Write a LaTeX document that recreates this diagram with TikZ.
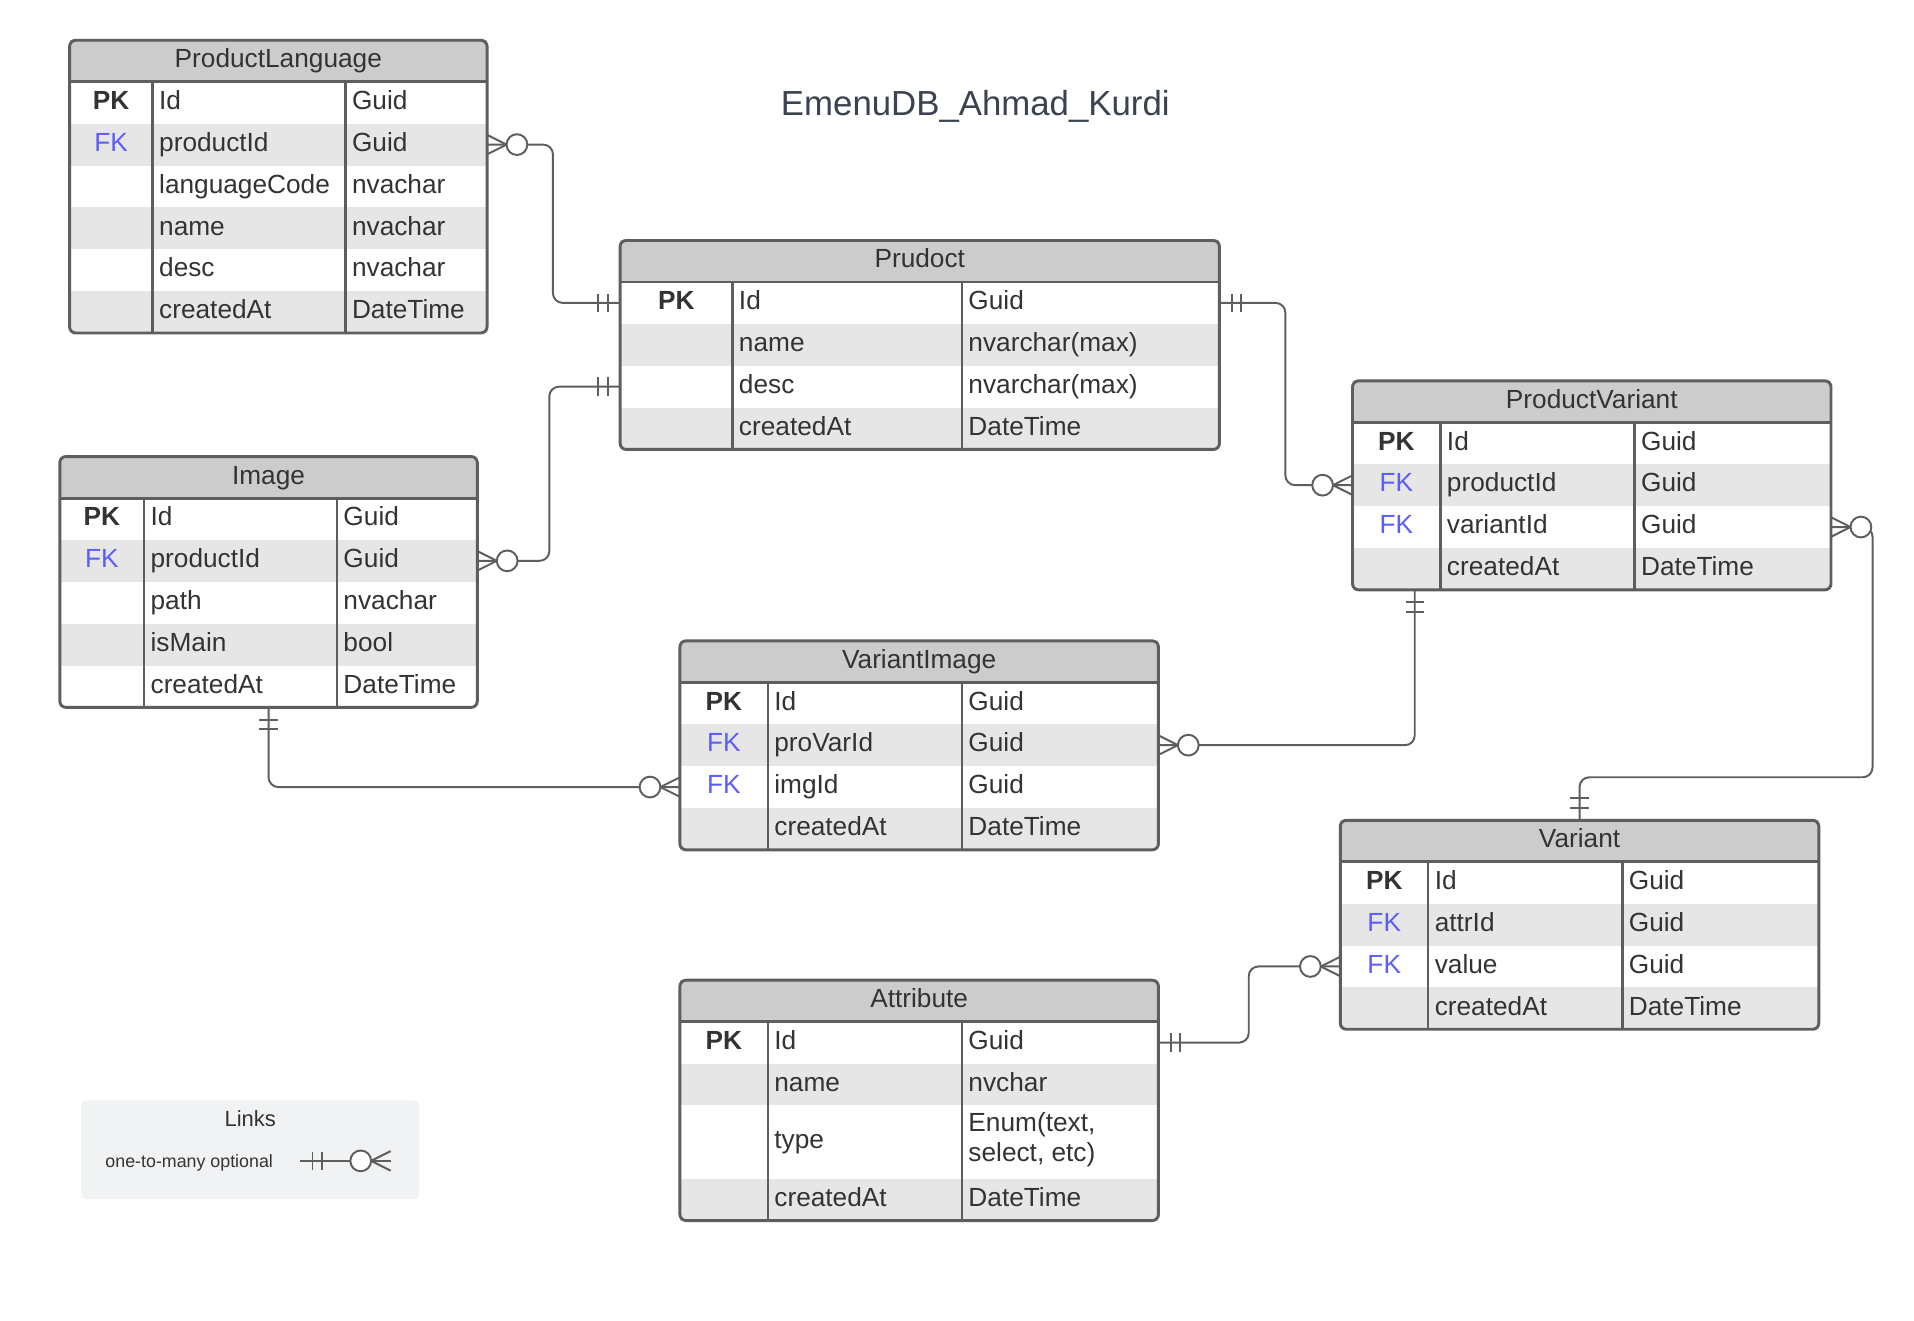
\documentclass[tikz,border=0pt]{standalone}
\usepackage{fontspec}
\setmainfont{Liberation Sans}
\usetikzlibrary{calc}

\definecolor{linegray}{HTML}{5E5E5E}
\definecolor{headgray}{HTML}{CCCCCC}
\definecolor{stripe}{HTML}{E6E6E6}
\definecolor{textgray}{HTML}{333333}
\definecolor{titlegray}{HTML}{3B4250}
\definecolor{fkblue}{HTML}{5C5CFF}
\definecolor{legendbg}{HTML}{F1F2F4}

\tikzset{
  tablehead/.style={fill=headgray, minimum height=17pt, inner sep=0pt, outer sep=0pt,
    text=textgray, font=\fontsize{10.75}{13}\selectfont, text height=9pt, text depth=3.5pt},
  tablerow/.style={inner sep=0pt, outer sep=0pt, draw=none},
  celltext/.style={inner sep=0pt, text=textgray, font=\fontsize{10.75}{13}\selectfont,
    text height=9pt, text depth=3.5pt},
  keycell/.style={celltext},
  keycell PK/.style={celltext, font=\fontsize{10.75}{13}\selectfont\bfseries},
  keycell FK/.style={celltext, text=fkblue},
  tableline/.style={draw=linegray, line width=1.2pt},
  colline/.style={draw=linegray, line width=1pt},
  link/.style={draw=linegray, line width=0.8pt, rounded corners=4pt},
  legendbox/.style={fill=legendbg, rounded corners=2.5pt, inner sep=0pt},
  % one and only one
  onemand/.pic={
    \draw[linegray, line width=0.8pt] (10,-7.5) -- (10,7.5) (18,-7.5) -- (18,7.5);
  },
  % zero or many
  zeromany/.pic={
    \draw[linegray, line width=0.8pt] (0,-8) -- (16,0) -- (0,8);
    \draw[linegray, line width=0.8pt, fill=white] (24.5,0) circle[radius=8.5];
  },
}

% table: id, left, top, width, key column, field column, title
\newcommand{\erdtable}[7]{%
  \xdef\ertid{#1}\xdef\erleft{#2}\xdef\erwidth{#4}\xdef\erkey{#5}\xdef\erfield{#6}%
  \pgfmathsetmacro{\ertmp}{#3+34}\xdef\ertop{\ertmp}\xdef\errow{0}%
  \node[tablehead, minimum width=#4*0.5pt, anchor=north west] (#1) at (#2,#3) {#7};
}
% row: [height], key, field, type
\newcommand{\erdrow}[4][34.3]{%
  \pgfmathtruncatemacro{\ertmp}{\errow+1}\xdef\errow{\ertmp}%
  \ifodd\errow\relax\def\errowfill{white}\else\def\errowfill{stripe}\fi
  \node[tablerow, fill=\errowfill, minimum width=\erwidth*0.5pt, minimum height=#1*0.5pt,
    anchor=north west] (\ertid-\errow) at (\erleft,\ertop) {};
  \node[keycell #2] at ($(\ertid-\errow.west)+(\erkey/2,0)$) {#2};
  \node[celltext, anchor=west] at ($(\ertid-\errow.west)+(\erkey+5,0)$) {#3};
  \node[celltext, anchor=west] at ($(\ertid-\errow.west)+(\erkey+\erfield+5,0)$) {#4};
  \pgfmathsetmacro{\ertmp}{\ertop+#1}\xdef\ertop{\ertmp}%
}
% borders and column lines
\newcommand{\erdend}{%
  \draw[colline] ($(\ertid-1.north west)+(\erkey,0)$) -- ($(\ertid-\errow.south west)+(\erkey,0)$);
  \draw[colline] ($(\ertid-1.north west)+(\erkey+\erfield,0)$) -- ($(\ertid-\errow.south west)+(\erkey+\erfield,0)$);
  \draw[tableline] (\ertid.south west) -- (\ertid.south east);
  \draw[tableline, rounded corners=2.5pt] (\ertid.north west) rectangle (\ertid-\errow.south east);
}

\begin{document}
\begin{tikzpicture}[x=0.5pt, y=-0.5pt]
  \fill[white] (0,0) rectangle (1568,1082);
  \useasboundingbox (0,0) rectangle (1568,1082);

  % Title
  \node[text=titlegray, font=\fontsize{14.25}{17}\selectfont] (title) at (799,87) {EmenuDB\_Ahmad\_Kurdi};

  % ProductLanguage
  \erdtable{pl}{57}{33}{342}{68}{158}{ProductLanguage}
  \erdrow{PK}{Id}{Guid}
  \erdrow{FK}{productId}{Guid}
  \erdrow{}{languageCode}{nvachar}
  \erdrow{}{name}{nvachar}
  \erdrow{}{desc}{nvachar}
  \erdrow{}{createdAt}{DateTime}
  \erdend

  % Prudoct
  \erdtable{pd}{508}{197}{491}{92}{188}{Prudoct}
  \erdrow{PK}{Id}{Guid}
  \erdrow{}{name}{nvarchar(max)}
  \erdrow{}{desc}{nvarchar(max)}
  \erdrow{}{createdAt}{DateTime}
  \erdend

  % ProductVariant
  \erdtable{pv}{1108}{312}{392}{72}{159}{ProductVariant}
  \erdrow{PK}{Id}{Guid}
  \erdrow{FK}{productId}{Guid}
  \erdrow{FK}{variantId}{Guid}
  \erdrow{}{createdAt}{DateTime}
  \erdend

  % Image
  \erdtable{im}{49}{374}{342}{69}{158}{Image}
  \erdrow{PK}{Id}{Guid}
  \erdrow{FK}{productId}{Guid}
  \erdrow{}{path}{nvachar}
  \erdrow{}{isMain}{bool}
  \erdrow{}{createdAt}{DateTime}
  \erdend

  % VariantImage
  \erdtable{vi}{557}{525}{392}{72}{159}{VariantImage}
  \erdrow{PK}{Id}{Guid}
  \erdrow{FK}{proVarId}{Guid}
  \erdrow{FK}{imgId}{Guid}
  \erdrow{}{createdAt}{DateTime}
  \erdend

  % Variant
  \erdtable{va}{1098}{672}{392}{72}{159}{Variant}
  \erdrow{PK}{Id}{Guid}
  \erdrow{FK}{attrId}{Guid}
  \erdrow{FK}{value}{Guid}
  \erdrow{}{createdAt}{DateTime}
  \erdend

  % Attribute
  \erdtable{at}{557}{803}{392}{72}{159}{Attribute}
  \erdrow{PK}{Id}{Guid}
  \erdrow{}{name}{nvchar}
  \erdrow[60]{}{type}{}
  \node[inner sep=0pt, text=textgray, font=\fontsize{10.75}{12.6}\selectfont, align=left, anchor=west]
    (at-enum) at ($(at-3.west)+(236,-2)$) {Enum(text,\\select, etc)};
  \erdrow{}{createdAt}{DateTime}
  \erdend

  % Links
  \coordinate (pv-b) at ($(pv-4.south west)+(51,0)$);
  \draw[link] (pl-2.east) -- ++(54,0) |- (pd-1.west);
  \draw[link] (im-2.east) -- ++(59,0) |- (pd-3.west);
  \draw[link] (pd-1.east) -- ++(54,0) |- (pv-2.west);
  \draw[link] (pv-b) |- (vi-2.east);
  \draw[link] (im-5.south) |- (vi-3.west);
  \draw[link] (pv-3.east) -- ++(34,0) -- ++(0,205) -| (va.north);
  \draw[link] (at-1.east) -- ++(74,0) |- (va-3.west);

  % Link ends
  \pic at (pl-2.east) {zeromany};
  \pic[rotate=180] at (pd-1.west) {onemand};
  \pic at (im-2.east) {zeromany};
  \pic[rotate=180] at (pd-3.west) {onemand};
  \pic at (pd-1.east) {onemand};
  \pic[rotate=180] at (pv-2.west) {zeromany};
  \pic[rotate=-90] at (pv-b) {onemand};
  \pic at (vi-2.east) {zeromany};
  \pic[rotate=-90] at (im-5.south) {onemand};
  \pic[rotate=180] at (vi-3.west) {zeromany};
  \pic at (pv-3.east) {zeromany};
  \pic[rotate=90] at (va.north) {onemand};
  \pic at (at-1.east) {onemand};
  \pic[rotate=180] at (va-3.west) {zeromany};

  % Legend
  \node[legendbox, minimum width=277*0.5pt, minimum height=81*0.5pt, anchor=north west] (lg) at (66,901) {};
  \node[text=textgray, font=\fontsize{9}{11}\selectfont] (lg-title) at (205,916) {Links};
  \node[text=textgray, font=\fontsize{7.3}{9}\selectfont] (lg-text) at (155,953) {one-to-many optional};
  \coordinate (lk-a) at (246,951);
  \coordinate (lk-b) at (320,951);
  \draw[link] (lk-a) -- (lk-b);
  \pic at (lk-a) {onemand};
  \pic[rotate=180] at (lk-b) {zeromany};
\end{tikzpicture}
\end{document}
